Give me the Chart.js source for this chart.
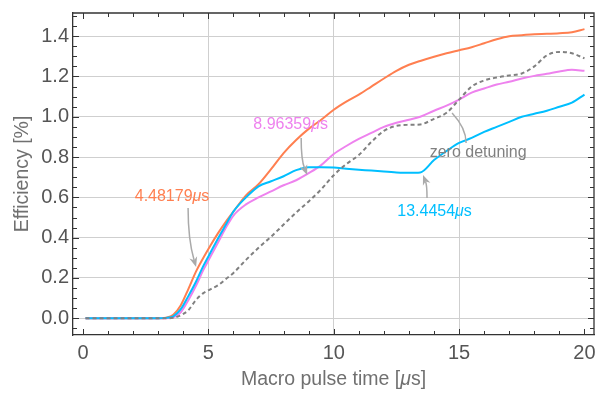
<!DOCTYPE html>
<html><head><meta charset="utf-8">
<script src="https://cdn.jsdelivr.net/npm/chart.js@4/dist/chart.umd.min.js"></script>
<style>html,body{margin:0;padding:0;background:#fff}</style>
</head><body>
<canvas id="c" width="596" height="394"></canvas>
<script>
// ---- data ----
const times   = [0.1, 1, 2, 3, 3.3, 3.6, 3.9, 4.2, 4.5, 4.8, 5.1, 5.4, 5.7, 6, 6.5, 7, 7.5, 8, 8.5, 9, 9.5, 10, 10.5, 11, 11.5, 12, 12.5, 13, 13.45, 14, 14.5, 15, 15.5, 16, 16.5, 17, 17.5, 18, 18.5, 19, 19.5, 20];
const orangeV = [0, 0, 0, 0, 0.003, 0.018, 0.065, 0.145, 0.23, 0.30, 0.365, 0.425, 0.48, 0.53, 0.61, 0.665, 0.74, 0.82, 0.885, 0.94, 0.985, 1.035, 1.075, 1.11, 1.15, 1.19, 1.228, 1.258, 1.277, 1.298, 1.315, 1.33, 1.345, 1.365, 1.385, 1.40, 1.405, 1.41, 1.412, 1.415, 1.42, 1.435];
const violetV = [0, 0, 0, 0, 0, 0.005, 0.03, 0.09, 0.16, 0.24, 0.31, 0.38, 0.45, 0.51, 0.565, 0.60, 0.63, 0.66, 0.685, 0.72, 0.76, 0.815, 0.855, 0.89, 0.92, 0.95, 0.97, 0.985, 1.0, 1.03, 1.055, 1.085, 1.12, 1.14, 1.16, 1.174, 1.19, 1.203, 1.213, 1.225, 1.233, 1.228];
const cyanV   = [0, 0, 0, 0, 0.002, 0.01, 0.045, 0.11, 0.18, 0.26, 0.33, 0.40, 0.465, 0.53, 0.60, 0.655, 0.68, 0.705, 0.735, 0.75, 0.75, 0.748, 0.742, 0.737, 0.733, 0.728, 0.724, 0.722, 0.724, 0.785, 0.83, 0.87, 0.895, 0.925, 0.95, 0.975, 1.0, 1.015, 1.03, 1.05, 1.07, 1.11];
const grayV   = [0, 0, 0, 0, 0, 0.003, 0.015, 0.04, 0.09, 0.125, 0.145, 0.165, 0.195, 0.225, 0.29, 0.35, 0.405, 0.465, 0.525, 0.58, 0.64, 0.71, 0.765, 0.81, 0.875, 0.93, 0.955, 0.96, 0.962, 0.99, 1.02, 1.085, 1.15, 1.18, 1.195, 1.205, 1.215, 1.25, 1.305, 1.322, 1.315, 1.29];
const xTickVals = [0, 5, 10, 15, 20];
const yTickVals = [0, 0.2, 0.4, 0.6, 0.8, 1.0, 1.2, 1.4];
const noteTexts = ['4.48179', '8.96359', '13.4454', 'zero detuning'];
const xTitle = ['Macro pulse time [', '\u03bc', 's]'];
const yTitle = 'Efficiency [%]';

// ---- styles ----
const C_OR = 'rgb(255,127,80)', C_VI = 'rgb(238,130,238)', C_CY = 'rgb(0,191,255)', C_GR = 'rgb(128,128,128)';
const FONT = "'Liberation Sans', Arial, sans-serif";

function pts(vals){ return times.map((t,i)=>({x:t, y:vals[i]})); }

// annotation geometry in data units
const notes = [
  {text: noteTexts[0], unit: true, color: C_OR, at:[3.55,0.602], from:[4.19,0.547], ctrl:[4.19,0.389], to:[4.51,0.255], head:true},
  {text: noteTexts[1], unit: true, color: C_VI, at:[8.28,0.959], from:[8.70,0.895], ctrl:[8.70,0.786], to:[8.94,0.711], head:true},
  {text: noteTexts[2], unit: true, color: C_CY, at:[14.02,0.528], from:[13.72,0.597], ctrl:[13.72,0.66], to:[13.56,0.711], head:true},
  {text: noteTexts[3], unit: false, color: C_GR, at:[15.76,0.82], from:[15.28,0.87], ctrl:[15.28,0.944], to:[14.72,1.019], head:false}
];

function drawMixed(ctx, parts, cx, cy){
  let w = 0;
  for (const p of parts){ ctx.font = p[1]; w += ctx.measureText(p[0]).width; }
  let xx = cx - w/2;
  for (const p of parts){ ctx.font = p[1]; ctx.fillText(p[0], xx, cy); xx += ctx.measureText(p[0]).width; }
}

const framePlugin = {
  id: 'framePlugin',
  beforeDatasetsDraw(chart){
    const {ctx, chartArea:a, scales:{x, y}} = chart;
    ctx.save();
    ctx.strokeStyle = '#333'; ctx.lineWidth = 1;
    ctx.beginPath();
    for (let t = 0; t <= 20; t += 1){
      const p = Math.round(x.getPixelForValue(t)) + 0.5;
      const L = (t % 5 === 0) ? 6 : 4;
      ctx.moveTo(p, a.bottom); ctx.lineTo(p, a.bottom - L);
      ctx.moveTo(p, a.top); ctx.lineTo(p, a.top + L);
    }
    for (let k = -1; k <= 30; k++){
      const v = k * 0.05;
      const p = Math.round(y.getPixelForValue(v)) + 0.5;
      if (p < a.top || p > a.bottom) continue;
      const L = (k % 4 === 0) ? 6 : 4;
      ctx.moveTo(a.left, p); ctx.lineTo(a.left + L, p);
      ctx.moveTo(a.right, p); ctx.lineTo(a.right - L, p);
    }
    ctx.stroke();
    ctx.restore();
  },
  afterDatasetsDraw(chart){
    const {ctx, chartArea:a, scales:{x, y}} = chart;
    ctx.save();
    for (const n of notes){
      const P = (d)=>[x.getPixelForValue(d[0]), y.getPixelForValue(d[1])];
      const f = P(n.from), c = P(n.ctrl), t = P(n.to), at = P(n.at);
      ctx.strokeStyle = '#aaa'; ctx.lineWidth = 1.5;
      let end = t;
      const ang = Math.atan2(t[1]-c[1], t[0]-c[0]);
      if (n.head){ end = [t[0] - Math.cos(ang)*7, t[1] - Math.sin(ang)*7]; }
      ctx.beginPath(); ctx.moveTo(f[0], f[1]); ctx.quadraticCurveTo(c[0], c[1], end[0], end[1]); ctx.stroke();
      if (n.head){
        ctx.fillStyle = '#aaa';
        ctx.beginPath();
        ctx.moveTo(t[0], t[1]);
        ctx.lineTo(t[0] - Math.cos(ang)*10 + Math.sin(ang)*4, t[1] - Math.sin(ang)*10 - Math.cos(ang)*4);
        ctx.lineTo(t[0] - Math.cos(ang)*7, t[1] - Math.sin(ang)*7);
        ctx.lineTo(t[0] - Math.cos(ang)*10 - Math.sin(ang)*4, t[1] - Math.sin(ang)*10 + Math.cos(ang)*4);
        ctx.closePath(); ctx.fill();
      }
      ctx.fillStyle = n.color; ctx.textBaseline = 'middle'; ctx.textAlign = 'left';
      const reg = '16px ' + FONT, ita = 'italic 16px ' + FONT;
      drawMixed(ctx, n.unit ? [[n.text, reg], ['\u03bc', ita], ['s', reg]] : [[n.text, reg]], at[0], at[1]);
    }
    // frame top and right
    ctx.strokeStyle = '#333'; ctx.lineWidth = 1.3;
    ctx.beginPath();
    ctx.moveTo(a.left, a.top); ctx.lineTo(a.right, a.top); ctx.lineTo(a.right, a.bottom);
    ctx.stroke();
    ctx.restore();
  },
  afterDraw(chart){
    const {ctx, chartArea:a} = chart;
    ctx.save();
    ctx.fillStyle = '#707070'; ctx.textBaseline = 'middle'; ctx.textAlign = 'left';
    const reg = '19.5px ' + FONT, ita = 'italic 19.5px ' + FONT;
    drawMixed(ctx, [[xTitle[0], reg], [xTitle[1], ita], [xTitle[2], reg]], (a.left + a.right)/2, 380);
    ctx.translate(23, (a.top + a.bottom)/2);
    ctx.rotate(-Math.PI/2);
    drawMixed(ctx, [[yTitle, reg]], 0, 0);
    ctx.restore();
  }
};

new Chart(document.getElementById('c'), {
  type: 'line',
  data: {
    datasets: [
      {label:'zero detuning', data: pts(grayV), borderColor: C_GR, borderWidth: 2, borderDash:[4,3], pointRadius:0, cubicInterpolationMode:'monotone', order:0},
      {label:'13.4454', data: pts(cyanV), borderColor: C_CY, borderWidth: 2, pointRadius:0, cubicInterpolationMode:'monotone', order:1},
      {label:'8.96359', data: pts(violetV), borderColor: C_VI, borderWidth: 2, pointRadius:0, cubicInterpolationMode:'monotone', order:2},
      {label:'4.48179', data: pts(orangeV), borderColor: C_OR, borderWidth: 2, pointRadius:0, cubicInterpolationMode:'monotone', order:3}
    ]
  },
  options: {
    responsive: false, animation: false, devicePixelRatio: 1,
    layout: {padding: {top: 13, right: 2, left: 0, bottom: 0}},
    plugins: {legend: {display:false}, tooltip: {enabled:false}},
    scales: {
      x: {
        type: 'linear', min: -0.4, max: 20.38,
        afterBuildTicks: s => { s.ticks = xTickVals.map(v=>({value:v})); },
        afterFit: s => { s.height = 59; s.paddingLeft = 0; s.paddingRight = 0; s.paddingTop = 0; s.paddingBottom = 0; },
        grid: {drawTicks:false, color: c => (c.tick && (c.tick.value === 0 || c.tick.value === 20)) ? 'rgba(0,0,0,0)' : '#cfcfcf', lineWidth:1},
        border: {display:true, color:'#333', width:1.3},
        ticks: {padding: 6, color:'#555', font:{size:20, family:FONT}, maxRotation:0, callback: v => String(v)},
        title: {display:false}
      },
      y: {
        type: 'linear', min: -0.083, max: 1.515,
        afterBuildTicks: s => { s.ticks = yTickVals.map(v=>({value:v})); },
        afterFit: s => { s.width = 73; s.paddingLeft = 0; s.paddingRight = 0; s.paddingTop = 0; s.paddingBottom = 0; },
        grid: {drawTicks:false, color:'#cfcfcf', lineWidth:1},
        border: {display:true, color:'#333', width:1.3},
        ticks: {padding: 4, color:'#555', font:{size:20, family:FONT}, callback: v => Number(v).toFixed(1)},
        title: {display:false}
      }
    }
  },
  plugins: [framePlugin]
});
</script>
</body></html>
